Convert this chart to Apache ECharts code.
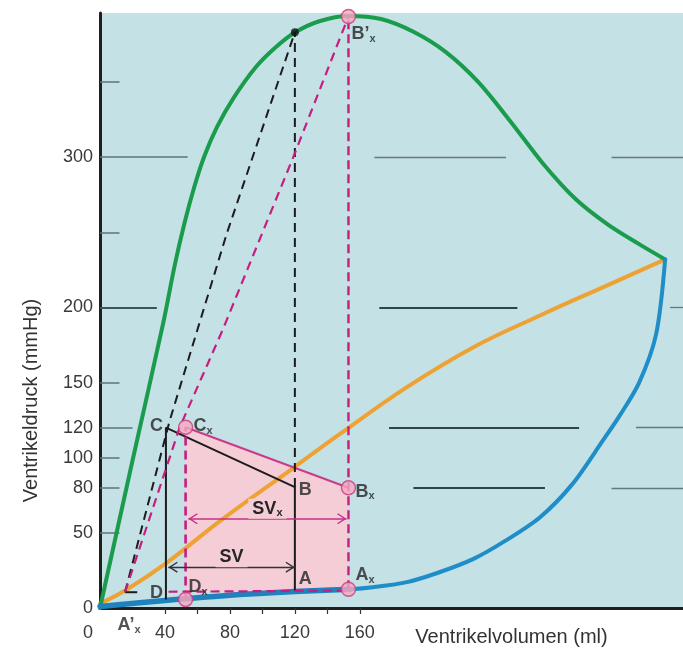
<!DOCTYPE html>
<html><head><meta charset="utf-8">
<script src="https://cdn.jsdelivr.net/npm/echarts@6/dist/echarts.min.js"></script>
<style>html,body{margin:0;padding:0;background:#fff}#c{width:683px;height:656px}</style>
</head><body><div id="c"></div>
<script>
// ---------- data (volume ml, pressure mmHg) ----------
const xTickLabels = [0, 40, 80, 120, 160];
const xTicks = [40, 60, 80, 100, 120, 140, 160];
const yTickLabels = [0, 50, 80, 100, 120, 150, 200, 300];
const yTicks = [50, 80, 100, 120, 150, 200, 250, 300, 350];

const isovolMax = [[0,0],[20,98],[39,190],[46,228],[52,256],[58,280],[64,300],[72,320],[82,339],[96,360],[108,373],[120,383],[135,390.5],[153,394],[173,392],[193,383.5],[213,370],[233,350],[253,323.5],[273,295.5],[293,272],[313,255],[333,241.5],[348,232]];
const isobaricMax = [[0,3],[16,12],[41,30],[74,58],[120,94],[148,116],[189,147],[230,173.6],[271,194.7],[312,214.6],[348,232]];
const restingCurve = [[0,1],[40,5],[80,8.5],[120,11],[154,12.5],[168,13.8],[189,17.2],[209,23.8],[230,32.7],[250,45],[271,60.4],[291,82.6],[309.7,111.5],[320,128],[332,150],[342.5,182.5],[348,232]];

const loopNames = ['D', 'C', 'B', 'A'];
const loop = [[40.6,5.6],[40.6,120],[120,80.5],[120,11.5]];
const loopXNames = ['Dx', 'Cx', 'Bx', 'Ax'];
const loopX = [[52.7,5.7],[52.7,120.3],[153,80],[153,12.5]];
const Apx = [15.4, 10.5];      // A'x
const Bpx = [153, 393.7];      // B'x
const Bp = [120, 383.2];       // B' (black dot)
const blackTangent = [Apx, [43,125], [78,249], Bp];
const magentaTangent = [Apx, [49,120], [75.5,185], [119,300], Bpx];
const fillPoly = [[52.7,10.5],[52.7,120.3],[153,80],[153,12]];
const svLevel = 27.2, svxLevel = 59.4, baseDash = 10.8;

// reference grid-line pieces inside the plot: [level, [from,to], ...]
const refLevels = [300, 200, 120, 80];
const refPieces = [[[169,250],[315,359]], [[172,257],[351,359]], [[178,295],[330,359]], [[193,274],[315,359]]];

// ---------- build ----------
const FONT = '"Liberation Sans", Arial, Helvetica, sans-serif';
const MAG = '#c41f80';
const tickLen = {300: 54, 200: 35, 120: 20};
const lineSeg = (a, b, style) => ({coords: [a, b], lineStyle: Object.assign({opacity: 1}, style)});

const tickData = yTicks.map(v => lineSeg([0, v], [tickLen[v] || 12, v],
  {color: v === 200 ? '#3e5358' : '#5d7379', width: v === 200 ? 1.8 : 1.5}));
const refData = [];
refLevels.forEach((lv, i) => refPieces[i].forEach((p, j) => {
  const strong = j === 0 && lv !== 300;
  refData.push(lineSeg([p[0], lv], [p[1], lv], {color: strong ? '#2f4449' : '#64797f', width: strong ? 2.2 : 1.3}));
}));

const chevron = 'path://M10,10 L15.5,18.6 L14.4,19.4 L10,12.6 L5.6,19.4 L4.5,18.6 Z M0,0 L0.01,0 L0,0.01 Z M20,0 L19.99,0 L20,0.01 Z M10,20 L10.01,20 L10,19.99 Z';

const sub = (main, s) => s ? `{b|${main}}{s|${s}}` : `{b|${main}}`;
const richLbl = {
  b: {fontSize: 18, fontWeight: 'bold', color: '#262626', fontFamily: FONT, lineHeight: 20},
  s: {fontSize: 11, fontWeight: 'bold', color: '#262626', fontFamily: FONT, lineHeight: 10, verticalAlign: 'bottom'}
};
const lbl = (pt, text, position, distance, offset) => ({
  value: pt, label: {show: true, formatter: text, position, distance, offset, rich: richLbl}
});
const annotations = [
  lbl(loop[1], sub('C',''), 'left', 3, [0,-2]),
  lbl(loopX[1], sub('C','x'), 'right', 8, [0,-1]),
  lbl(loop[2], sub('B',''), 'right', 4, [0,3]),
  lbl(loopX[2], sub('B','x'), 'right', 7, [0,4]),
  lbl(loop[3], sub('A',''), 'right', 4, [0,-12]),
  lbl(loopX[3], sub('A','x'), 'right', 7, [0,-14]),
  lbl(loop[0], sub('D',''), 'left', 3, [0,-7]),
  lbl(loopX[0], sub('D','x'), 'right', 3, [0,-12]),
  lbl(Apx, sub('A’','x'), 'inside', 0, [4,33]),
  lbl(Bpx, sub('B’','x'), 'right', 3, [0,18])
];

const curve = (data, color, width, smooth) => ({type: 'line', data, symbol: 'none', smooth: smooth || 0.3,
  lineStyle: {color, width, cap: 'round'}, silent: true, z: 3});

const option = {
  animation: false,
  grid: {left: 100, top: 13, right: 0, bottom: 48, outerBoundsMode: 'none', containLabel: false,
    show: true, backgroundColor: '#c4e1e6', borderWidth: 0},
  xAxis: {
    type: 'value', min: 0, max: 359,
    axisLine: {show: true, onZero: false, lineStyle: {color: '#1f1f1f', width: 3}},
    axisTick: {show: true, customValues: xTicks, length: 6, lineStyle: {color: '#333', width: 1.2}},
    axisLabel: {customValues: xTickLabels, margin: 16, fontSize: 18, color: '#3a3a3a', fontFamily: FONT,
      formatter: v => v === 0 ? '{z|0}' : String(v),
      rich: {z: {fontSize: 18, color: '#3a3a3a', fontFamily: FONT, padding: [0, 24, 0, 0]}}},
    splitLine: {show: false},
    name: 'Ventrikelvolumen (ml)', nameLocation: 'middle', nameGap: 19, nameMoveOverlap: false,
    nameTextStyle: {fontSize: 20, color: '#333', fontFamily: FONT, padding: [0, 0, 0, 240]}
  },
  yAxis: {
    type: 'value', min: 0, max: 396,
    axisLine: {show: true, onZero: false, lineStyle: {color: '#1f1f1f', width: 3}},
    axisTick: {show: false},
    axisLabel: {customValues: yTickLabels, margin: 7, fontSize: 18, color: '#3a3a3a', fontFamily: FONT},
    splitLine: {show: false},
    name: 'Ventrikeldruck (mmHg)', nameLocation: 'middle', nameGap: 59, nameRotate: 90,
    nameTextStyle: {fontSize: 20, color: '#333', fontFamily: FONT, padding: [0, 180, 0, 0]}
  },
  series: [
    {type: 'custom', data: fillPoly, encode: {x: 0, y: 1}, silent: true, z: 1,
      renderItem: (params, api) => {
        if (params.dataIndex !== 0) return null;
        return {type: 'polygon', shape: {points: fillPoly.map(p => api.coord(p))}, style: {fill: '#f5cdd6'}};
      }},
    {type: 'lines', coordinateSystem: 'cartesian2d', data: refData.concat(tickData), silent: true, z: 2,
      lineStyle: {opacity: 1}},
    curve(isobaricMax, '#eda233', 4, 0.4),
    curve(isovolMax, '#1a9c4c', 4, 0.3),
    curve(restingCurve, '#1e8dc8', 4, 0.3),
    curve(restingCurve.filter(p => p[0] <= 154), '#1f82bd', 5.5, 0.3),
    // control loop
    {type: 'line', data: loop, symbol: 'none', lineStyle: {color: '#1c1c1c', width: 2}, silent: true, z: 4},
    {type: 'line', data: [loopX[1], loopX[2]], symbol: 'none', lineStyle: {color: '#c93a8a', width: 2}, silent: true, z: 4},
    {type: 'line', data: [Apx, [Apx[0] + 7.5, Apx[1]]], symbol: 'none', lineStyle: {color: '#1c1c1c', width: 2}, silent: true, z: 4},
    {type: 'line', data: blackTangent, symbol: 'none', lineStyle: {color: '#1c1c1c', width: 2, type: [9, 6]}, silent: true, z: 4},
    {type: 'line', data: [loop[2], Bp], symbol: 'none', lineStyle: {color: '#1c1c1c', width: 2, type: [9, 6]}, silent: true, z: 4},
    {type: 'line', data: magentaTangent, symbol: 'none', lineStyle: {color: MAG, width: 2.2, type: [9, 6]}, silent: true, z: 4},
    {type: 'line', data: [loopX[0], loopX[1]], symbol: 'none', lineStyle: {color: MAG, width: 2.6, type: [9, 5]}, silent: true, z: 4},
    {type: 'line', data: [loopX[3], Bpx], symbol: 'none', lineStyle: {color: MAG, width: 2.4, type: [9, 5]}, silent: true, z: 4},
    {type: 'line', data: [[loop[0][0] + 1.6, baseDash], [loopX[3][0], baseDash + 0.8]], symbol: 'none', lineStyle: {color: MAG, width: 2.2, type: [9, 5]}, silent: true, z: 4},
    // stroke volume arrows
    {type: 'lines', coordinateSystem: 'cartesian2d', silent: true, z: 5,
      symbol: [chevron, chevron], symbolSize: 20, lineStyle: {opacity: 1},
      data: [
        {coords: [[loop[1][0] + 1.5, svLevel], [loop[2][0], svLevel]], lineStyle: {color: '#333', width: 1.4, opacity: 1},
          label: {show: true, position: 'middle', formatter: sub('SV', ''), rich: richLbl, backgroundColor: '#f5cdd6', padding: [0, 4]}},
        {coords: [[loopX[1][0] + 1.7, svxLevel], [loopX[2][0] - 1.2, svxLevel]], lineStyle: {color: '#c3328a', width: 1.5, opacity: 1},
          label: {show: true, position: 'middle', formatter: sub('SV', 'x'), rich: richLbl, backgroundColor: '#f5cdd6', padding: [0, 4]}}
      ]},
    {type: 'scatter', data: [loopX[0], loopX[1], loopX[2], loopX[3], Bpx], symbol: 'circle', symbolSize: 14,
      itemStyle: {color: '#f5a9c1', borderColor: '#cc3b80', borderWidth: 1.5}, silent: true, z: 6},
    {type: 'scatter', data: [Bp], symbol: 'circle', symbolSize: 8, itemStyle: {color: '#111'}, silent: true, z: 6},
    {type: 'scatter', data: annotations, symbolSize: 0, silent: true, z: 7}
  ]
};
const chart = echarts.init(document.getElementById('c'));
chart.setOption(option);
</script></body></html>
